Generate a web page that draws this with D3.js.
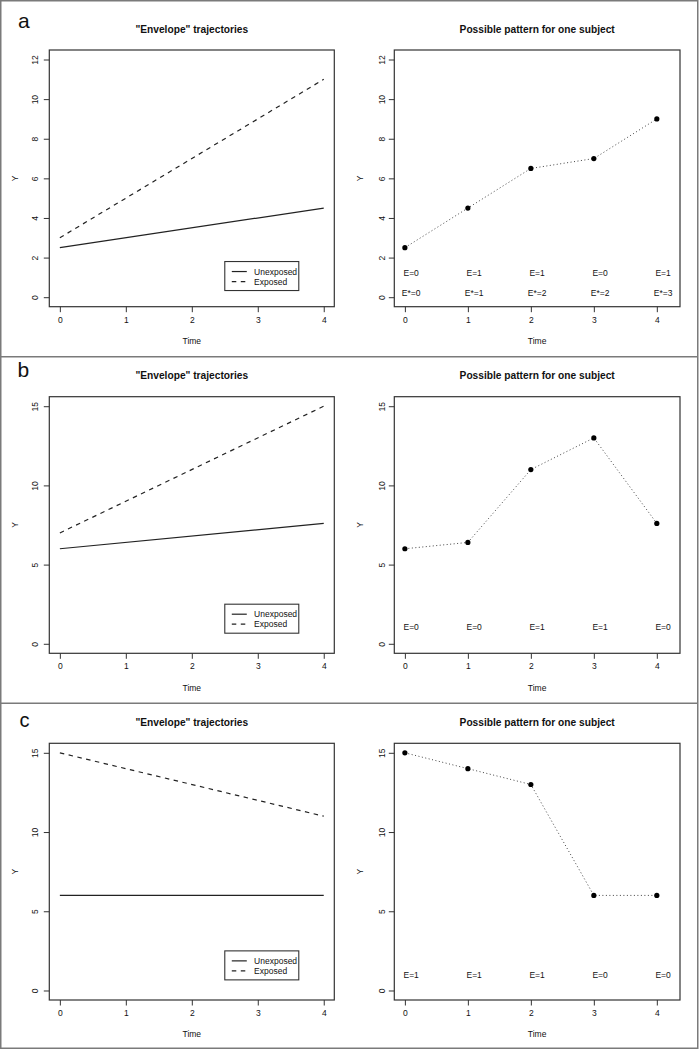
<!DOCTYPE html>
<html>
<head>
<meta charset="utf-8">
<script src="https://cdn.jsdelivr.net/npm/d3@7"></script>
<style>
  html, body { margin: 0; padding: 0; background: #fff; color: #111; }
  svg { display: block; color: #111; }
  text { font-family: "Liberation Sans", Arial, Helvetica, sans-serif; fill: #111; }
</style>
</head>
<body>
<svg id="chart" width="700" height="1050"></svg>
<script>
// ---------------- data ----------------
const panelLabels = ["a", "b", "c"];
const leftTitle = "\"Envelope\" trajectories";
const rightTitle = "Possible pattern for one subject";
const xLabel = "Time";
const yLabel = "Y";
const legendLabels = ["Unexposed", "Exposed"];

const xTicks = [0, 1, 2, 3, 4];
const yTicksA = [0, 2, 4, 6, 8, 10, 12];
const yTicksBC = [0, 5, 10, 15];

// envelope lines: values at time 0 and time 4
const envTimes = [0, 4];
const unexposedA = [2.5, 4.5];
const exposedA = [3, 11];
const unexposedB = [6, 7.6];
const exposedB = [7, 15];
const unexposedC = [6, 6];
const exposedC = [15, 11];

// one subject's pattern at times 0..4
const subjectTimes = [0, 1, 2, 3, 4];
const subjectA = [2.5, 4.5, 6.5, 7, 9];
const subjectB = [6, 6.4, 11, 13, 7.6];
const subjectC = [15, 14, 13, 6, 6];

// exposure annotations
const exposureA = [0, 1, 1, 0, 1];
const cumExposureA = [0, 1, 2, 2, 3];
const exposureB = [0, 0, 1, 1, 0];
const exposureC = [1, 1, 1, 0, 0];

// ---------------- layout ----------------
const panels = [
  { label: panelLabels[0], labelX: 18, labelY: 28.3, labelSize: 21,
    boxTop: 50, boxBottom: 306.7, yLim: [0, 12], yTicks: yTicksA,
    unexp: unexposedA, exp: exposedA, subj: subjectA,
    ann: [{ vals: exposureA, prefix: "E=", y: 1.2 }, { vals: cumExposureA, prefix: "E*=", y: 0.2 }],
    legendY: 1.8 },
  { label: panelLabels[1], labelX: 17.5, labelY: 377.3, labelSize: 21,
    boxTop: 396.7, boxBottom: 653.3, yLim: [0, 15], yTicks: yTicksBC,
    unexp: unexposedB, exp: exposedB, subj: subjectB,
    ann: [{ vals: exposureB, prefix: "E=", y: 1.05 }],
    legendY: 2.5 },
  { label: panelLabels[2], labelX: 19.5, labelY: 727.3, labelSize: 20,
    boxTop: 743.3, boxBottom: 1000, yLim: [0, 15], yTicks: yTicksBC,
    unexp: unexposedC, exp: exposedC, subj: subjectC,
    ann: [{ vals: exposureC, prefix: "E=", y: 1.0 }],
    legendY: 2.5 }
];

const svg = d3.select("#chart");
svg.append("rect").attr("width", 700).attr("height", 1050).attr("fill", "#fff");

const frameColor = "#7a7a7a";
const ink = "#222";
const tickFont = 8.5;

function ext(lim) { const r = lim[1] - lim[0]; return [lim[0] - 0.04 * r, lim[1] + 0.04 * r]; }

function drawAxes(g, x, y, p, box, yTickOffset, yLabelOffset) {
  // frame
  g.append("rect")
    .attr("x", box.l).attr("y", p.boxTop)
    .attr("width", box.r - box.l).attr("height", p.boxBottom - p.boxTop)
    .attr("fill", "none").attr("stroke", "#333").attr("stroke-width", 1.2);

  // x axis
  const xa = g.append("g").attr("transform", `translate(0,${p.boxBottom})`)
    .call(d3.axisBottom(x).tickValues(xTicks).tickFormat(d3.format("d")).tickSize(5.5).tickPadding(4.5));
  xa.select(".domain").remove();
  xa.selectAll("line").attr("stroke", "#333").attr("stroke-width", 1);
  xa.selectAll("text").attr("font-size", tickFont).attr("fill", "#111").style("fill", "#111")
    .attr("font-family", "Liberation Sans, Arial, sans-serif");

  // y axis with rotated labels
  const ya = g.append("g").attr("transform", `translate(${box.l},0)`)
    .call(d3.axisLeft(y).tickValues(p.yTicks).tickFormat(d3.format("d")).tickSize(5.5));
  ya.select(".domain").remove();
  ya.selectAll("line").attr("stroke", "#333").attr("stroke-width", 1);
  ya.selectAll("text")
    .attr("x", null).attr("dy", null)
    .attr("transform", `translate(${-yTickOffset},0) rotate(-90)`)
    .attr("text-anchor", "middle")
    .attr("font-size", tickFont).attr("fill", "#111").style("fill", "#111")
    .attr("font-family", "Liberation Sans, Arial, sans-serif");

  // axis titles
  g.append("text").attr("x", (box.l + box.r) / 2).attr("y", p.boxBottom + 37.3)
    .attr("text-anchor", "middle").attr("font-size", tickFont).text(xLabel);
  g.append("text")
    .attr("transform", `translate(${box.l - yLabelOffset},${(p.boxTop + p.boxBottom) / 2}) rotate(-90)`)
    .attr("text-anchor", "middle").attr("font-size", tickFont).text(yLabel);
}

panels.forEach((p, i) => {
  const g = svg.append("g");
  const yDom = ext(p.yLim);

  // ---------- left plot ----------
  const boxL = { l: 49.3, r: 334.3 };
  const xL = d3.scaleLinear().domain(ext([0, 4])).range([boxL.l, boxL.r]);
  const yS = d3.scaleLinear().domain(yDom).range([p.boxBottom, p.boxTop]);

  drawAxes(g, xL, yS, p, boxL, 11.8, 31);

  g.append("text").attr("x", (boxL.l + boxL.r) / 2).attr("y", p.boxTop - 17.3)
    .attr("text-anchor", "middle").attr("font-size", 10.2).attr("font-weight", "bold")
    .text(leftTitle);

  const line = d3.line().x(d => xL(d[0])).y(d => yS(d[1]));
  g.append("path").datum(envTimes.map((t, k) => [t, p.unexp[k]]))
    .attr("d", line).attr("fill", "none").attr("stroke", ink).attr("stroke-width", 1.2);
  g.append("path").datum(envTimes.map((t, k) => [t, p.exp[k]]))
    .attr("d", line).attr("fill", "none").attr("stroke", ink).attr("stroke-width", 1.2)
    .attr("stroke-dasharray", "4.5,4.5");

  // legend
  const lx = xL(2.5), ly = yS(p.legendY);
  const lg = g.append("g").attr("transform", `translate(${lx},${ly})`);
  lg.append("rect").attr("width", 74).attr("height", 29)
    .attr("fill", "#fff").attr("stroke", "#333").attr("stroke-width", 1.1);
  legendLabels.forEach((lab, k) => {
    const yy = 10 + k * 10;
    lg.append("line").attr("x1", 7).attr("x2", 22).attr("y1", yy).attr("y2", yy)
      .attr("stroke", ink).attr("stroke-width", 1.2)
      .attr("stroke-dasharray", k === 1 ? "4.5,4.5" : null);
    lg.append("text").attr("x", 29.3).attr("y", yy + 3).attr("font-size", tickFont).text(lab);
  });

  // ---------- right plot ----------
  const boxR = { l: 394.3, r: 680 };
  const xR = d3.scaleLinear().domain(ext([0, 4.2])).range([boxR.l, boxR.r]);
  drawAxes(g, xR, yS, p, boxR, 9.5, 31);

  g.append("text").attr("x", (boxR.l + boxR.r) / 2).attr("y", p.boxTop - 17.3)
    .attr("text-anchor", "middle").attr("font-size", 10.2).attr("font-weight", "bold")
    .text(rightTitle);

  const pts = subjectTimes.map((t, k) => [t, p.subj[k]]);
  const lineR = d3.line().x(d => xR(d[0])).y(d => yS(d[1]));
  g.append("path").datum(pts).attr("d", lineR).attr("fill", "none")
    .attr("stroke", "#444").attr("stroke-width", 1).attr("stroke-dasharray", "1,2.5");
  g.selectAll(null).data(pts).enter().append("circle")
    .attr("cx", d => xR(d[0])).attr("cy", d => yS(d[1])).attr("r", 2.6).attr("fill", "#000");

  p.ann.forEach(a => {
    g.selectAll(null).data(subjectTimes).enter().append("text")
      .attr("x", t => xR(t + 0.1)).attr("y", yS(a.y) + 3)
      .attr("text-anchor", "middle").attr("font-size", tickFont)
      .text((t, k) => a.prefix + a.vals[k]);
  });

  // panel letter
  svg.append("text").attr("x", p.labelX).attr("y", p.labelY)
    .attr("font-size", p.labelSize).attr("fill", "#000").text(p.label);
});

// panel frames
svg.append("rect").attr("x", 0.75).attr("y", 0.75).attr("width", 697).attr("height", 1047.5)
  .attr("fill", "none").attr("stroke", frameColor).attr("stroke-width", 1.5);
[356.7, 703.3].forEach(yy => {
  svg.append("line").attr("x1", 0).attr("x2", 698).attr("y1", yy).attr("y2", yy)
    .attr("stroke", frameColor).attr("stroke-width", 1.5);
});
</script>
</body>
</html>
